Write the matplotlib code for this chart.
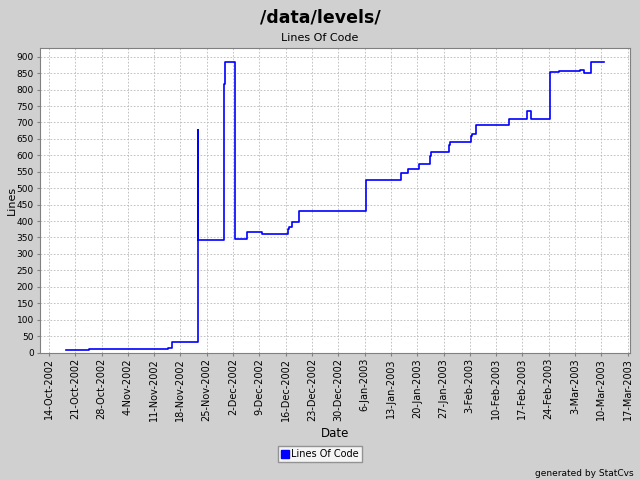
import numpy as np
import matplotlib
matplotlib.use('Agg')
import matplotlib.pyplot as plt
from matplotlib.lines import Line2D

# step points (date of change, lines of code after it)
dates = ['2002-10-18T12:40', '2002-10-24T15:30', '2002-11-14T19:00', '2002-11-15T18:00',
         '2002-11-22T16:00', '2002-11-22T16:01', '2002-11-29T14:00', '2002-11-29T20:40',
         '2002-12-02T12:30', '2002-12-05T19:40', '2002-12-09T17:00', '2002-12-16T15:00',
         '2002-12-16T21:30', '2002-12-17T16:50', '2002-12-19T13:30', '2003-01-06T07:40',
         '2003-01-15T17:15', '2003-01-17T14:00', '2003-01-20T10:20', '2003-01-23T10:30',
         '2003-01-23T17:00', '2003-01-28T12:00', '2003-01-28T18:20', '2003-02-03T06:30',
         '2003-02-03T13:00', '2003-02-04T16:20', '2003-02-13T11:20', '2003-02-18T06:15',
         '2003-02-19T08:00', '2003-02-24T07:30', '2003-02-26T18:50', '2003-03-04T09:00',
         '2003-03-05T10:30', '2003-03-07T07:15', '2003-03-10T14:25']
loc = [8, 10, 14, 31,
       677, 342, 817, 884,
       345, 367, 361, 376,
       383, 398, 430, 525,
       546, 559, 573, 598,
       611, 630, 641, 660,
       665, 692, 710, 735,
       710, 853, 857, 860,
       851, 884, 884]

first_tick = '2002-10-14'
last_tick = '2003-03-17'
y_ticks = np.arange(0, 901, 50)

bg = '#d0d0d0'
x = np.array(dates, dtype='datetime64[m]').astype('O')

fig = plt.figure(figsize=(6.4, 4.8), dpi=100, facecolor=bg)
ax = fig.add_axes([39.5 / 640, 127.5 / 480, 590.5 / 640, 305 / 480])
ax.set_facecolor('white')

ax.step(x, loc, where='post', color='#0000ff', lw=1.2)

ticks = np.arange(np.datetime64(first_tick), np.datetime64(last_tick) + 1, 7).astype('O')
ax.set_xticks(ticks)
ax.set_xticklabels([f'{t.day}-{t.strftime("%b-%Y")}' for t in ticks], rotation=90, fontsize=7)
ax.set_xlim(np.datetime64('2002-10-11T12:00').astype('O'), np.datetime64('2003-03-17T15:00').astype('O'))
ax.set_yticks(y_ticks)
ax.set_ylim(0, 928)
ax.tick_params(length=2, color='#808080', pad=2)
ax.tick_params(axis='y', labelsize=6.5)
ax.grid(True, ls=(0, (2, 2)), color='#b8b8b8', lw=0.6)
for s in ax.spines.values():
    s.set_color('#808080')

ax.set_xlabel('Date', fontsize=8.5)
ax.set_ylabel('Lines', fontsize=8)
ax.yaxis.set_label_coords(-0.038, 0.5)

fig.text(0.5, 1 - 17 / 480, '/data/levels/', ha='center', va='center', fontsize=12.5, fontweight='bold')
fig.text(0.5, 1 - 38 / 480, 'Lines Of Code', ha='center', va='center', fontsize=8)
fig.text(634 / 640, 1 - 473 / 480, 'generated by StatCvs', ha='right', va='center', fontsize=6.5)

handle = Line2D([], [], marker='s', color='#0000ff', ls='none', markersize=6)
leg = fig.legend([handle], ['Lines Of Code'], loc='center', bbox_to_anchor=(0.5, 1 - 454 / 480),
                 fontsize=7, frameon=True, fancybox=False, handletextpad=0.2, borderpad=0.3,
                 handlelength=0.8, edgecolor='#808080')
leg.get_frame().set_facecolor('white')

fig.savefig('out.png', dpi=100, facecolor=bg)
